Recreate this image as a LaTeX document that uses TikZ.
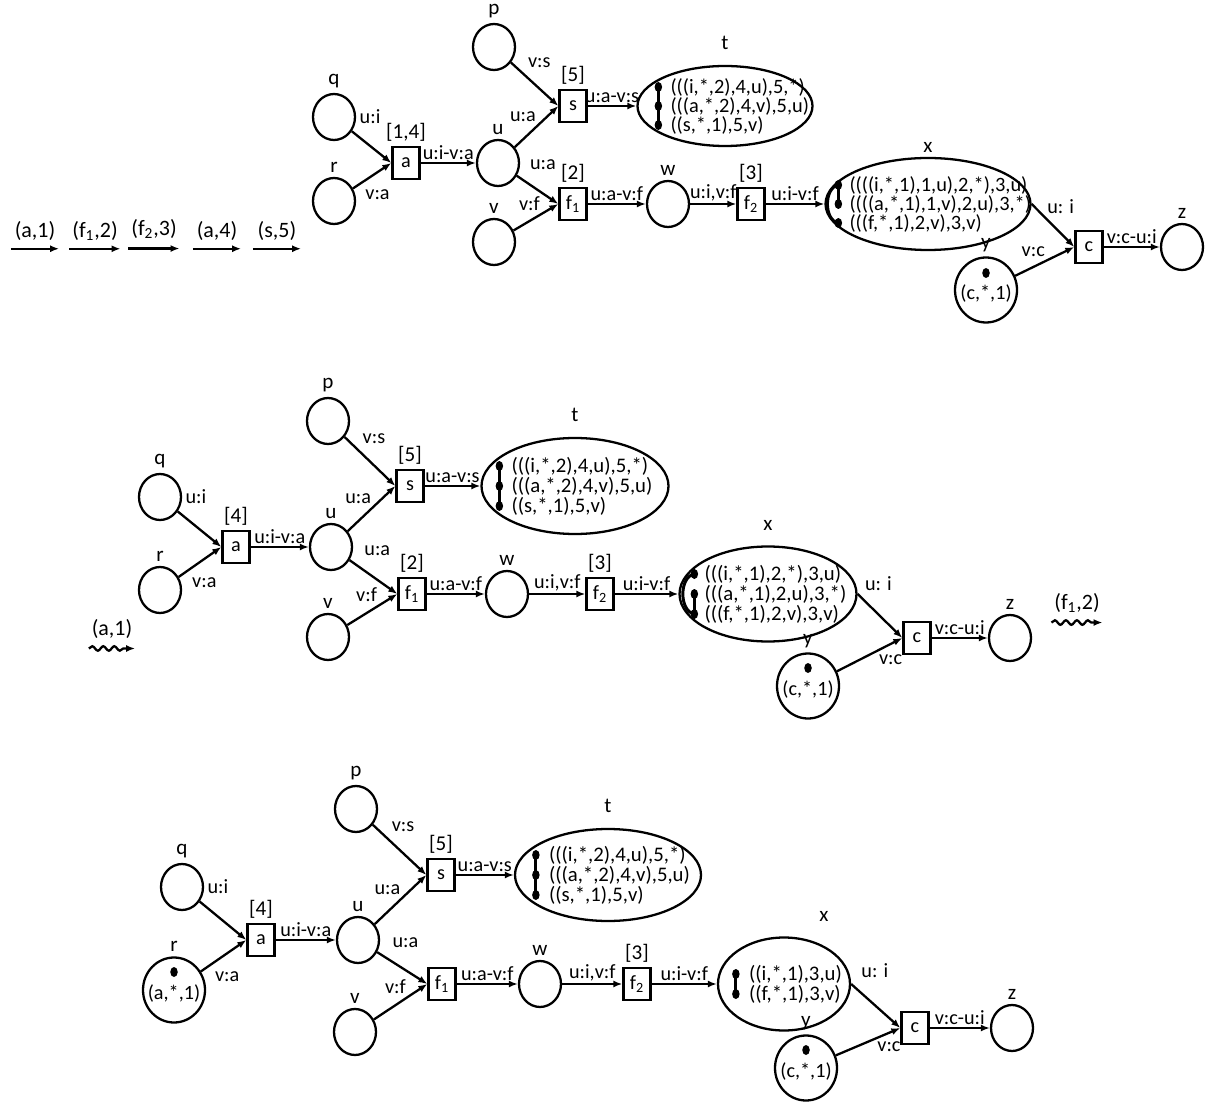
\documentclass[tikz,border=0pt]{standalone}
\usepackage{fontspec}
\setmainfont{Carlito}
\usetikzlibrary{positioning,arrows.meta,shapes.geometric,decorations.pathmorphing}

\begin{document}
\begin{tikzpicture}[
  place/.style={draw, ellipse, minimum width=0.84cm, minimum height=0.92cm, inner sep=0pt},
  mplace/.style={draw, ellipse, minimum width=1.24cm, minimum height=1.3cm, inner sep=0pt},
  bag/.style={draw, ellipse, inner sep=0pt},
  trans/.style={draw, minimum width=0.54cm, minimum height=0.64cm, inner sep=0pt},
  lbl/.style={inner sep=1pt},
  tup/.style={align=left, inner sep=0pt, font=\fontsize{11.8}{11.3}\selectfont},
  ev/.style={minimum width=0.92cm, inner sep=1pt, font=\fontsize{12.5}{14}\selectfont},
  bar/.style={line width=1.7pt},
  wavy/.style={decorate, decoration={snake, amplitude=0.45mm, segment length=2.2mm, post length=1.8mm}},
  every label/.style={inner sep=1pt, font=\fontsize{12}{14}\selectfont},
  label distance=1pt,
  font=\fontsize{11.5}{13}\selectfont,
  >={Latex[length=1.8mm,width=1.4mm]}, line width=1.3pt
]
\useasboundingbox (0,0) rectangle (24.22,22.04);

% firing sequence
\node[ev] (ev1) at (0.70,17.42) {(a,1)};
\node[ev] (ev2) at (1.90,17.42) {(f\textsubscript{1},2)};
\node[ev] (ev3) at (3.08,17.46) {(f\textsubscript{2},3)};
\node[ev] (ev4) at (4.34,17.42) {(a,4)};
\node[ev] (ev5) at (5.54,17.42) {(s,5)};
\draw[->] ([yshift=-3pt]ev1.south west) -- ([yshift=-3pt]ev1.south east);
\draw[->] ([yshift=-3pt]ev2.south west) -- ([yshift=-3pt]ev2.south east);
\draw[->] ([yshift=-4pt]ev3.south west) -- ([yshift=-4pt]ev3.south east);
\draw[->] ([yshift=-3pt]ev4.south west) -- ([yshift=-3pt]ev4.south east);
\draw[->] ([yshift=-3pt]ev5.south west) -- ([yshift=-3pt]ev5.south east);

% net 1
\node[place, label=above:q] (q1) at (6.68,19.70) {};
\node[place, label=above:r] (r1) at (6.68,18.02) {};
\node[trans, label=above:{[1,4]}] (a1) at (8.12,18.78) {a};
\node[place, label=above:u] (u1) at (9.96,18.78) {};
\node[place, label=above:p] (p1) at (9.88,21.10) {};
\node[place, label=above:v] (v1) at (9.88,17.20) {};
\node[trans, label=above:{[5]}] (s1) at (11.46,19.92) {s};
\node[trans, label=above:{[2]}] (fa1) at (11.46,17.96) {f\textsubscript{1}};
\node[bag, minimum width=3.5cm, minimum height=1.6cm, label={[label distance=7pt]above:t}] (t1) at (14.50,19.92) {};
\node[place, label=above:w] (w1) at (13.36,17.96) {};
\node[trans, label=above:{[3]}] (fb1) at (15.02,17.96) {f\textsubscript{2}};
\node[bag, minimum width=4.1cm, minimum height=1.84cm, label=above:x] (x1) at (18.56,17.96) {};
\node[mplace, label=above:y] (y1) at (19.72,16.24) {};
\node[trans] (c1) at (21.78,17.10) {c};
\node[place, label=above:z] (z1) at (23.64,17.10) {};

\draw[->] (q1) -- node[lbl, pos=0, anchor=south west, xshift=1mm, yshift=1mm] {u:i} (a1.west);
\draw[->] (r1) -- node[lbl, pos=0.25, anchor=north west, yshift=-1mm] {v:a} (a1.west);
\draw[->] (a1) -- node[lbl, above] {u:i-v:a} (u1);
\draw[->] (p1) -- node[lbl, pos=0.3, anchor=south west, yshift=1mm] {v:s} (s1.west);
\draw[->] (u1) -- node[lbl, pos=0.55, above left] {u:a} (s1.west);
\draw[->] (u1) -- node[lbl, pos=0.25, anchor=south west, yshift=2mm] {u:a} (fa1.west);
\draw[->] (v1) -- node[lbl, pos=0.65, above left] {v:f} (fa1.west);
\draw[->] (s1) -- node[lbl, above] {u:a-v:s} (t1);
\draw[->] (fa1) -- node[lbl, above] {u:a-v:f} (w1);
\draw[->] (w1) -- node[lbl, above] {u:i,v:f} (fb1);
\draw[->] (fb1) -- node[lbl, above] {u:i-v:f} (x1);
\draw[->] (x1.east) -- node[lbl, pos=0.3, anchor=south west] {u: i} (c1.west);
\draw[->] (y1) -- node[lbl, pos=0.55, above left] {v:c} (c1.west);
\draw[->] (c1) -- node[lbl, above] {v:c-u:i} (z1);

\node[tup, anchor=west, font=\fontsize{11.6}{10.8}\selectfont] (t1txt) at ([xshift=0.66cm]t1.west) {(((i,*,2),4,u),5,*)\\(((a,*,2),4,v),5,u)\\((s,*,1),5,v)};
\coordinate (t1k1) at ([xshift=-0.22cm, yshift=0.38cm]t1txt.west);
\coordinate (t1k2) at ([xshift=-0.22cm]t1txt.west);
\coordinate (t1k3) at ([xshift=-0.22cm, yshift=-0.38cm]t1txt.west);
\draw[bar] (t1k1) -- (t1k3);
\foreach \k in {1,2,3} \fill (t1k\k) ellipse (0.075 and 0.1);

\node[tup, anchor=west, font=\fontsize{11.6}{10.8}\selectfont] (x1txt) at ([xshift=0.48cm]x1.west) {((((i,*,1),1,u),2,*),3,u)\\((((a,*,1),1,v),2,u),3,*)\\(((f,*,1),2,v),3,v)};
\coordinate (x1k1) at ([xshift=-0.2cm, yshift=0.38cm]x1txt.west);
\coordinate (x1k2) at ([xshift=-0.2cm]x1txt.west);
\coordinate (x1k3) at ([xshift=-0.2cm, yshift=-0.38cm]x1txt.west);
\draw[bar] (x1k1) -- (x1k2);
\draw[bar] (x1k1) to[bend right=80] (x1k3);
\foreach \k in {1,2,3} \fill (x1k\k) ellipse (0.075 and 0.1);

\fill ([yshift=0.34cm]y1.center) ellipse (0.075 and 0.1);
\node (y1txt) at ([yshift=-0.08cm]y1.center) {(c,*,1)};

% net 2
\node[ev, minimum width=0.86cm] (ev6) at (2.24,9.46) {(a,1)};
\draw[->, wavy] ([yshift=-4pt]ev6.south west) -- ([yshift=-4pt]ev6.south east);
\node[ev, minimum width=0.86cm] (ev7) at (21.54,9.98) {(f\textsubscript{1},2)};
\draw[->, wavy] ([yshift=-4pt]ev7.south west) -- ([yshift=-4pt]ev7.south east);

\node[place, label=above:q] (q2) at (3.20,12.10) {};
\node[place, label=above:r] (r2) at (3.20,10.24) {};
\node[trans, label=above:{[4]}] (a2) at (4.72,11.10) {a};
\node[place, label=above:u] (u2) at (6.62,11.10) {};
\node[place, label=above:p] (p2) at (6.56,13.62) {};
\node[place, label=above:v] (v2) at (6.56,9.30) {};
\node[trans, label=above:{[5]}] (s2) at (8.20,12.32) {s};
\node[trans, label=above:{[2]}] (fa2) at (8.24,10.16) {f\textsubscript{1}};
\node[bag, minimum width=3.74cm, minimum height=1.92cm, label={[label distance=7pt]above:t}] (t2) at (11.50,12.32) {};
\node[place, label=above:w] (w2) at (10.14,10.16) {};
\node[trans, label=above:{[3]}] (fb2) at (12.00,10.16) {f\textsubscript{2}};
\node[bag, minimum width=3.54cm, minimum height=1.9cm, label={[label distance=7pt]above:x}] (x2) at (15.36,10.16) {};
\node[mplace, label=above:y] (y2) at (16.16,8.32) {};
\node[trans] (c2) at (18.34,9.28) {c};
\node[place, label=above:z] (z2) at (20.20,9.28) {};

\draw[->] (q2) -- node[lbl, pos=0, anchor=south west, xshift=1mm, yshift=1mm] {u:i} (a2.west);
\draw[->] (r2) -- node[lbl, pos=0.25, anchor=north west, yshift=-1mm] {v:a} (a2.west);
\draw[->] (a2) -- node[lbl, above] {u:i-v:a} (u2);
\draw[->] (p2) -- node[lbl, pos=0.3, anchor=south west, yshift=1mm] {v:s} (s2.west);
\draw[->] (u2) -- node[lbl, pos=0.55, above left] {u:a} (s2.west);
\draw[->] (u2) -- node[lbl, pos=0.25, anchor=south west, yshift=2mm] {u:a} (fa2.west);
\draw[->] (v2) -- node[lbl, pos=0.65, above left] {v:f} (fa2.west);
\draw[->] (s2) -- node[lbl, above] {u:a-v:s} (t2);
\draw[->] (fa2) -- node[lbl, above] {u:a-v:f} (w2);
\draw[->] (w2) -- node[lbl, above] {u:i,v:f} (fb2);
\draw[->] (fb2) -- node[lbl, above] {u:i-v:f} (x2);
\draw[->] (x2.east) -- node[lbl, pos=0.1, anchor=south west, yshift=1mm] {u: i} (c2.west);
\draw[->] (y2) -- node[lbl, pos=0.6, below right] {v:c} (c2.west);
\draw[->] (c2) -- node[lbl, above] {v:c-u:i} (z2);

\node[tup, anchor=west] (t2txt) at ([xshift=0.6cm]t2.west) {(((i,*,2),4,u),5,*)\\(((a,*,2),4,v),5,u)\\((s,*,1),5,v)};
\coordinate (t2k1) at ([xshift=-0.22cm, yshift=0.4cm]t2txt.west);
\coordinate (t2k2) at ([xshift=-0.22cm]t2txt.west);
\coordinate (t2k3) at ([xshift=-0.22cm, yshift=-0.4cm]t2txt.west);
\draw[bar] (t2k1) -- (t2k3);
\foreach \k in {1,2,3} \fill (t2k\k) ellipse (0.075 and 0.1);

\node[tup, anchor=west] (x2txt) at ([xshift=0.5cm]x2.west) {(((i,*,1),2,*),3,u)\\(((a,*,1),2,u),3,*)\\(((f,*,1),2,v),3,v)};
\coordinate (x2k1) at ([xshift=-0.18cm, yshift=0.4cm]x2txt.west);
\coordinate (x2k2) at ([xshift=-0.18cm]x2txt.west);
\coordinate (x2k3) at ([xshift=-0.18cm, yshift=-0.4cm]x2txt.west);
\draw[bar] (x2k2) -- (x2k3);
\draw[bar] (x2k1) to[bend right=80] (x2k3);
\foreach \k in {1,2,3} \fill (x2k\k) ellipse (0.075 and 0.1);

\fill ([yshift=0.36cm]y2.center) ellipse (0.075 and 0.1);
\node (y2txt) at ([yshift=-0.08cm]y2.center) {(c,*,1)};

% net 3
\node[place, label=above:q] (q3) at (3.64,4.30) {};
\node[mplace, label=above:r] (r3) at (3.48,2.24) {};
\node[trans, label=above:{[4]}] (a3) at (5.22,3.24) {a};
\node[place, label=above:u] (u3) at (7.16,3.24) {};
\node[place, label=above:p] (p3) at (7.12,5.86) {};
\node[place, label=above:v] (v3) at (7.10,1.40) {};
\node[trans, label=above:{[5]}] (s3) at (8.82,4.54) {s};
\node[trans] (fa3) at (8.84,2.36) {f\textsubscript{1}};
\node[bag, minimum width=3.72cm, minimum height=1.84cm, label={[label distance=7pt]above:t}] (t3) at (12.16,4.54) {};
\node[place, label=above:w] (w3) at (10.80,2.36) {};
\node[trans, label=above:{[3]}] (fb3) at (12.74,2.36) {f\textsubscript{2}};
\node[bag, minimum width=2.64cm, minimum height=1.86cm, label={[label distance=7pt, xshift=0.8cm]above:x}] (x3) at (15.68,2.36) {};
\node[mplace, label=above:y] (y3) at (16.12,0.68) {};
\node[trans] (c3) at (18.30,1.48) {c};
\node[place, label=above:z] (z3) at (20.24,1.48) {};

\draw[->] (q3) -- node[lbl, pos=0, anchor=south west, xshift=1mm, yshift=1mm] {u:i} (a3.west);
\draw[->] (r3) -- node[lbl, pos=0.25, anchor=north west, yshift=-1mm] {v:a} (a3.west);
\draw[->] (a3) -- node[lbl, above] {u:i-v:a} (u3);
\draw[->] (p3) -- node[lbl, pos=0.3, anchor=south west, yshift=1mm] {v:s} (s3.west);
\draw[->] (u3) -- node[lbl, pos=0.55, above left] {u:a} (s3.west);
\draw[->] (u3) -- node[lbl, pos=0.25, anchor=south west, yshift=2mm] {u:a} (fa3.west);
\draw[->] (v3) -- node[lbl, pos=0.65, above left] {v:f} (fa3.west);
\draw[->] (s3) -- node[lbl, above] {u:a-v:s} (t3);
\draw[->] (fa3) -- node[lbl, above] {u:a-v:f} (w3);
\draw[->] (w3) -- node[lbl, above] {u:i,v:f} (fb3);
\draw[->] (fb3) -- node[lbl, above] {u:i-v:f} (x3);
\draw[->] (x3.east) -- node[lbl, pos=0.15, anchor=south west, yshift=2mm] {u: i} (c3.west);
\draw[->] (y3) -- node[lbl, pos=0.6, below right] {v:c} (c3.west);
\draw[->] (c3) -- node[lbl, above] {v:c-u:i} (z3);

\node[tup, anchor=west] (t3txt) at ([xshift=0.68cm]t3.west) {(((i,*,2),4,u),5,*)\\(((a,*,2),4,v),5,u)\\((s,*,1),5,v)};
\coordinate (t3k1) at ([xshift=-0.24cm, yshift=0.4cm]t3txt.west);
\coordinate (t3k2) at ([xshift=-0.24cm]t3txt.west);
\coordinate (t3k3) at ([xshift=-0.24cm, yshift=-0.4cm]t3txt.west);
\draw[bar] (t3k1) -- (t3k3);
\foreach \k in {1,2,3} \fill (t3k\k) ellipse (0.075 and 0.1);

\node[tup, anchor=west] (x3txt) at ([xshift=0.62cm]x3.west) {((i,*,1),3,u)\\((f,*,1),3,v)};
\coordinate (x3k1) at ([xshift=-0.24cm, yshift=0.2cm]x3txt.west);
\coordinate (x3k2) at ([xshift=-0.24cm, yshift=-0.2cm]x3txt.west);
\draw[bar] (x3k1) -- (x3k2);
\foreach \k in {1,2} \fill (x3k\k) ellipse (0.075 and 0.1);

\fill ([yshift=0.36cm]r3.center) ellipse (0.075 and 0.1);
\node (r3txt) at ([yshift=-0.08cm]r3.center) {(a,*,1)};
\fill ([yshift=0.36cm]y3.center) ellipse (0.075 and 0.1);
\node (y3txt) at ([yshift=-0.08cm]y3.center) {(c,*,1)};
\end{tikzpicture}
\end{document}
